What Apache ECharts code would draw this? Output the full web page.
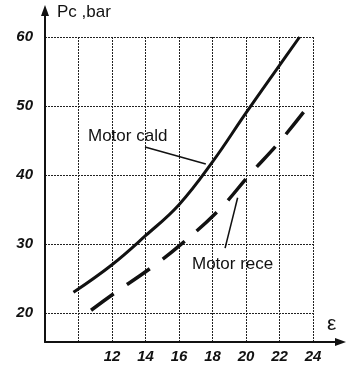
<!DOCTYPE html>
<html><head><meta charset="utf-8">
<script src="https://cdn.jsdelivr.net/npm/echarts@6/dist/echarts.min.js"></script>
<style>html,body{margin:0;padding:0;background:#fff}#c{width:360px;height:372px}</style>
</head><body><div id="c"></div>
<script>
// Data
const caldX = [9.7, 12, 14, 16, 18, 20, 22, 23.2];
const caldY = [23, 27, 31.2, 35.7, 41.9, 49.0, 55.9, 60];
const receX = [10.75, 12.1, 14.3, 16.1, 18.45, 20.2, 22, 23.5];
const receY = [20.4, 22.8, 26.5, 29.9, 35.1, 40, 44.8, 49.3];
const xLabelTicks = [12, 14, 16, 18, 20, 22, 24];
const yLabelTicks = [20, 30, 40, 50, 60];
const yTitle = 'Pc ,bar';
const xTitle = 'ε';
const caldName = 'Motor cald';
const receName = 'Motor rece';

const FONT = '"Liberation Sans", Arial, sans-serif';
const chart = echarts.init(document.getElementById('c'));
const pairs = (xs, ys) => xs.map((x, i) => [x, ys[i]]);

chart.setOption({
  animation: false,
  backgroundColor: '#fff',
  grid: { left: 45, right: 47, top: 37, bottom: 30 },
  xAxis: {
    type: 'value', min: 8, max: 24, interval: 2,
    axisLine: { show: true, onZero: false, lineStyle: { color: '#111', width: 2 } },
    axisTick: { show: false },
    splitLine: { show: true, lineStyle: { color: '#222', width: 1, type: [2, 1] } },
    axisLabel: {
      margin: 7, fontSize: 15, fontStyle: 'italic', fontWeight: 'bold', color: '#111', fontFamily: FONT,
      formatter: v => xLabelTicks.includes(v) ? String(v) : ''
    }
  },
  yAxis: {
    type: 'value', min: 15.8, max: 60, splitNumber: 4,
    axisLine: { show: true, onZero: false, lineStyle: { color: '#111', width: 2 } },
    axisTick: { show: false },
    splitLine: { show: true, lineStyle: { color: '#222', width: 1, type: [2, 1] } },
    axisLabel: {
      margin: 12, fontSize: 15, fontStyle: 'italic', fontWeight: 'bold', color: '#111', fontFamily: FONT,
      formatter: v => yLabelTicks.includes(v) ? String(v) : ''
    }
  },
  series: [
    {
      name: caldName, type: 'line', data: pairs(caldX, caldY), smooth: 0.4,
      symbol: 'none', lineStyle: { color: '#111', width: 3 },
      markLine: {
        silent: true, symbol: 'none', label: { show: false },
        lineStyle: { color: '#111', width: 1.5, type: 'solid' },
        data: [[{ coord: [13.97, 44.06] }, { coord: [17.6, 41.6] }]]
      }
    },
    {
      name: receName, type: 'line', data: pairs(receX, receY), smooth: 0.4,
      symbol: 'none', lineStyle: { color: '#111', width: 3.5, type: [28, 16] },
      markLine: {
        silent: true, symbol: 'none', label: { show: false },
        lineStyle: { color: '#111', width: 1.5, type: 'solid' },
        data: [[{ coord: [18.75, 29.4] }, { coord: [19.5, 36.7] }]]
      }
    }
  ]
});

const toPx = (x, y) => chart.convertToPixel({ gridIndex: 0 }, [x, y]);
const yEnd = toPx(8, 60), xEnd = toPx(24, 15.8);
chart.setOption({
  graphic: [
    { type: 'line', shape: { x1: yEnd[0], y1: yEnd[1], x2: yEnd[0], y2: 12 }, style: { stroke: '#111', lineWidth: 2 } },
    { type: 'polygon', shape: { points: [[yEnd[0], 5], [yEnd[0] - 4, 16], [yEnd[0] + 4, 16]] }, style: { fill: '#111' } },
    { type: 'line', shape: { x1: xEnd[0], y1: xEnd[1], x2: 338, y2: xEnd[1] }, style: { stroke: '#111', lineWidth: 2 } },
    { type: 'polygon', shape: { points: [[346, xEnd[1]], [335, xEnd[1] - 4], [335, xEnd[1] + 4]] }, style: { fill: '#111' } },
    { type: 'text', left: 57, top: 4, style: { text: yTitle, fontSize: 17, fontFamily: FONT, fill: '#111' } },
    { type: 'text', left: 327, top: 314, style: { text: xTitle, fontSize: 21, fontFamily: FONT, fill: '#111' } },
    { type: 'text', left: 88, top: 128, style: { text: caldName, fontSize: 17, fontFamily: FONT, fill: '#111' } },
    { type: 'text', left: 192, top: 256, style: { text: receName, fontSize: 17, fontFamily: FONT, fill: '#111' } }
  ]
});
</script></body></html>
